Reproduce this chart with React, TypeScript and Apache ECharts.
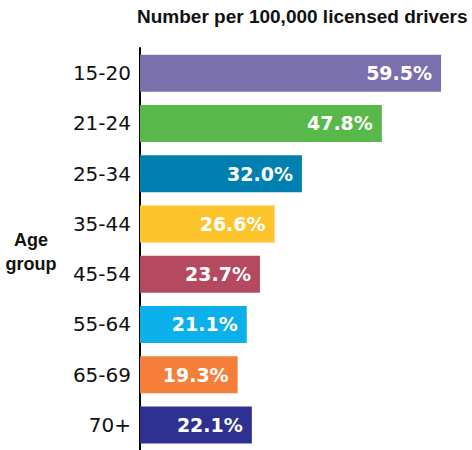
import React, { useEffect, useRef } from "react";
import * as echarts from "echarts";

const categories = ["15-20", "21-24", "25-34", "35-44", "45-54", "55-64", "65-69", "70+"];
const values = [59.5, 47.8, 32.0, 26.6, 23.7, 21.1, 19.3, 22.1];
const barColors = ["#7B70AE", "#58B94A", "#0080B0", "#FDC32B", "#B4495F", "#0BB0EA", "#F47E3A", "#2E3192"];
const titleText = "Number per 100,000 licensed drivers";
const axisTitleLines = ["Age", "group"];

export default function App() {
  const ref = useRef<HTMLDivElement>(null);
  useEffect(() => {
    if (!ref.current) return;
    const chart = echarts.init(ref.current, undefined, { renderer: "svg" });
    chart.setOption({
      animation: false,
      graphic: [
        {
          type: "text",
          left: 137,
          top: 7,
          style: {
            text: titleText,
            font: "bold 19px 'Liberation Sans'",
            fill: "#111",
          },
        },
        {
          type: "text",
          x: 31,
          y: 240,
          style: {
            text: axisTitleLines[0],
            font: "bold 18px 'Liberation Sans'",
            fill: "#111",
            align: "center",
            verticalAlign: "middle",
          },
        },
        {
          type: "text",
          x: 31,
          y: 264,
          style: {
            text: axisTitleLines[1],
            font: "bold 18px 'Liberation Sans'",
            fill: "#111",
            align: "center",
            verticalAlign: "middle",
          },
        },
      ],
      grid: { left: 140, top: 48, width: 303.6, height: 405.6, containLabel: false },
      xAxis: {
        type: "value",
        min: 0,
        max: 60,
        show: false,
      },
      yAxis: {
        type: "category",
        data: categories,
        inverse: true,
        axisLine: { show: true, lineStyle: { color: "#000", width: 2 } },
        axisTick: { show: false },
        axisLabel: {
          fontSize: 20,
          fontFamily: "DejaVu Sans",
          color: "#111",
          margin: 9,
        },
      },
      series: [
        {
          type: "bar",
          barWidth: 37,
          data: values.map((v, i) => ({ value: v, itemStyle: { color: barColors[i] } })),
          label: {
            show: true,
            position: "insideRight",
            distance: 9,
            color: "#fff",
            fontSize: 19,
            fontWeight: "bold",
            fontFamily: "DejaVu Sans",
            formatter: (p: any) => Number(p.value).toFixed(1) + "%",
          },
        },
      ],
    });
    return () => chart.dispose();
  }, []);
  return <div ref={ref} style={{ position: "absolute", left: 0, top: 0, width: 472, height: 450 }} />;
}
